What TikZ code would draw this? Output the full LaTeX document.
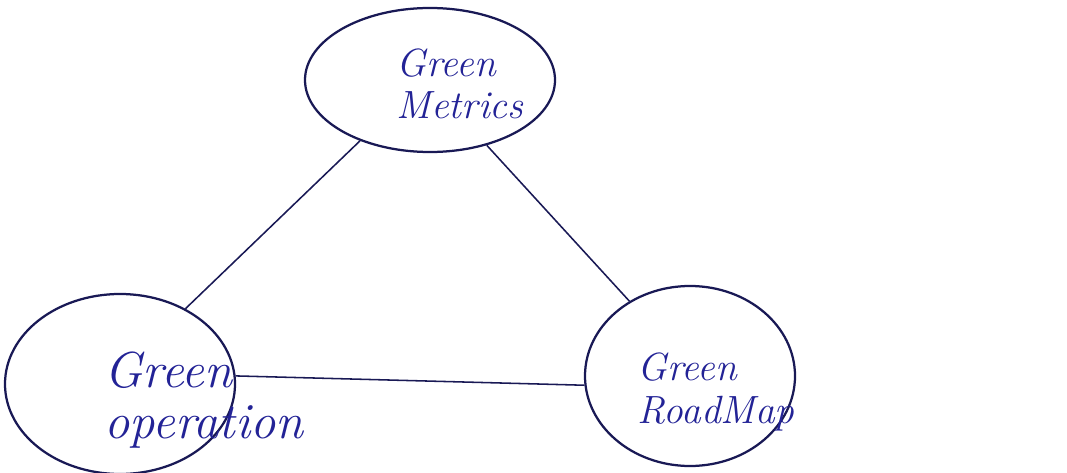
\documentclass[tikz,border=0pt]{standalone}
\usepackage{color}
\usepackage{tikz}
\usetikzlibrary{shapes}

\definecolor{ink}{RGB}{25,25,85}
\definecolor{pen}{RGB}{35,35,150}

\begin{document}
\begin{tikzpicture}
    \useasboundingbox (0,0) rectangle (26.675,11.8);
    \tikzset{blob/.style={draw, color=ink, line width=1.6pt, ellipse, inner sep=0pt},
             hand/.style={color=pen, font=\itshape\fontsize{28}{30}\selectfont, align=left}}
    \node[blob, minimum width=6.25cm, minimum height=3.6cm] (metrics) at (10.75,9.8) {};
    \node[blob, minimum width=5.75cm, minimum height=4.5cm] (oper) at (3.0,2.2) {};
    \node[blob, minimum width=5.25cm, minimum height=4.5cm] (road) at (17.25,2.4) {};
    \node[hand] (metricstxt) at (11.5,9.7) {Green\\Metrics};
    \node[hand, font=\itshape\fontsize{36}{36}\selectfont] (opertxt) at (5.1,1.8) {Green\\operation};
    \node[hand] (roadtxt) at (17.9,2.0) {Green\\RoadMap};
    \draw[ink, line width=1.1pt] (metrics.221)--(oper.49);
    \draw[ink, line width=1.1pt] (metrics.311)--(road.129);
    \draw[ink, line width=1.1pt] (oper.4)--(road.185);
  \end{tikzpicture}
\end{document}
